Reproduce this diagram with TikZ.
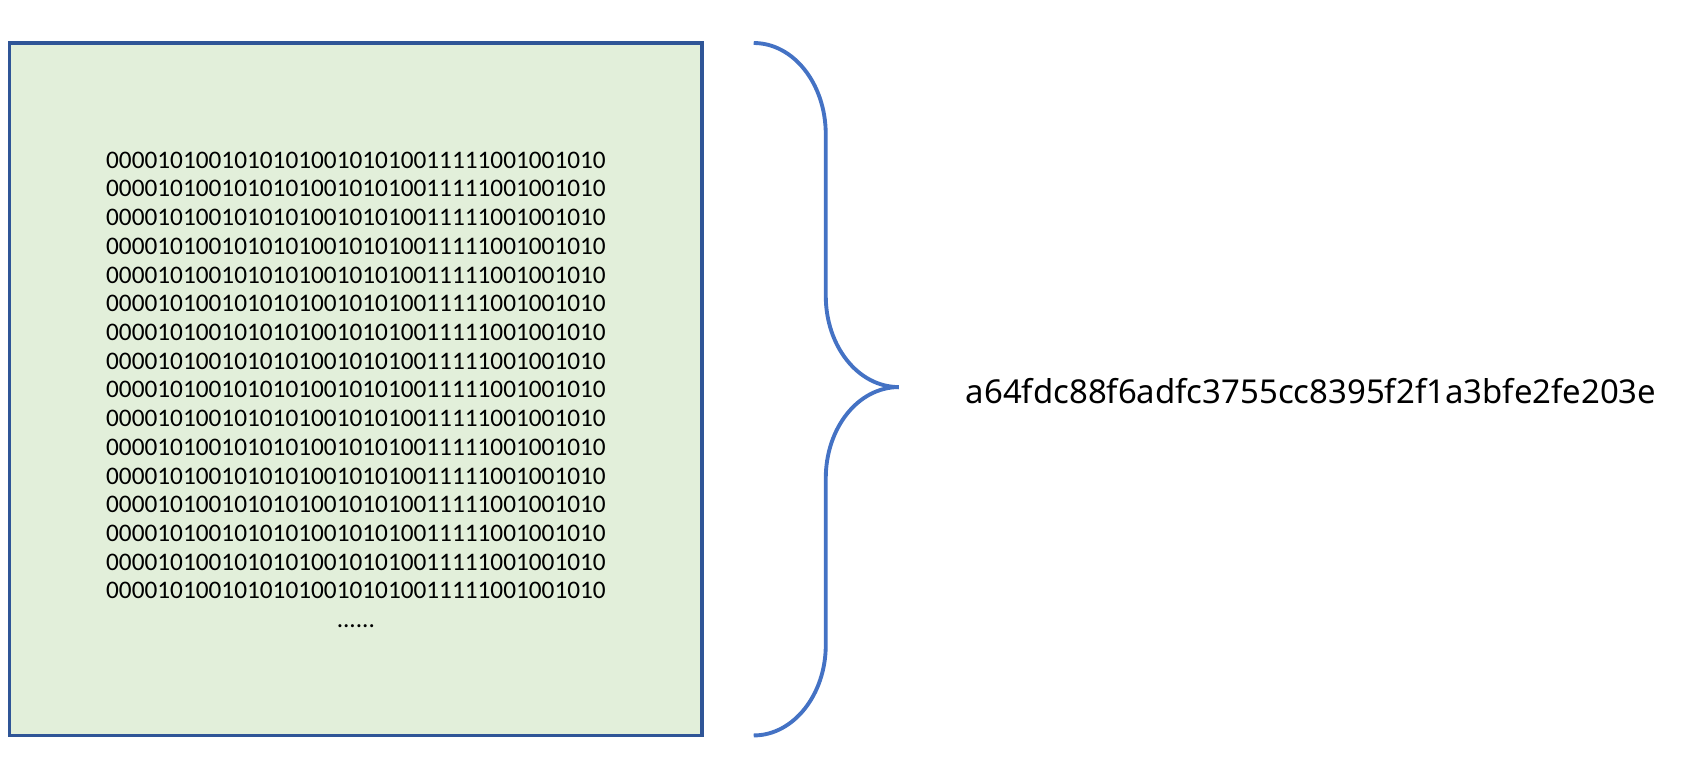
\documentclass[tikz,border=0pt]{standalone}
\usepackage{fontspec}
\setmainfont{Carlito}
\newfontfamily\hashfont{Noto Sans}
\definecolor{boxfill}{HTML}{E2EFDA}
\definecolor{boxline}{HTML}{2F5597}
\definecolor{bracecol}{HTML}{4472C4}
\begin{document}
\begin{tikzpicture}[x=1pt,y=-1pt,
  bitsbox/.style={draw=boxline,fill=boxfill,line width=3.2pt},
  bracestyle/.style={draw=bracecol,line width=3.6pt},
  bitstext/.style={font=\fontsize{23.5}{26.7}\selectfont,align=center,inner sep=0pt,text=black},
  hashtext/.style={font=\hashfont\fontsize{30.6}{36}\selectfont,inner sep=0pt,text=black}]
\useasboundingbox (0,0) rectangle (1569,711.5);
\path[bitsbox] (9,40) rectangle (653,684);
\node[bitstext,anchor=north] (bits) at (331,141) {%
000010100101010100101010011111001001010\\
000010100101010100101010011111001001010\\
000010100101010100101010011111001001010\\
000010100101010100101010011111001001010\\
000010100101010100101010011111001001010\\
000010100101010100101010011111001001010\\
000010100101010100101010011111001001010\\
000010100101010100101010011111001001010\\
000010100101010100101010011111001001010\\
000010100101010100101010011111001001010\\
000010100101010100101010011111001001010\\
000010100101010100101010011111001001010\\
000010100101010100101010011111001001010\\
000010100101010100101010011111001001010\\
000010100101010100101010011111001001010\\
000010100101010100101010011111001001010\\
......};
\draw[bracestyle] (701,40) .. controls (738,40) and (768,78) .. (768,125)
  -- (768,275) .. controls (768,322) and (798,360) .. (836,360);
\draw[bracestyle] (836,360) .. controls (798,360) and (768,398) .. (768,445)
  -- (768,600) .. controls (768,646) and (738,684) .. (701,684);
\node[hashtext,anchor=base west] (hash) at (898,375) {a64fdc88f6adfc3755cc8395f2f1a3bfe2fe203e};
\end{tikzpicture}
\end{document}
